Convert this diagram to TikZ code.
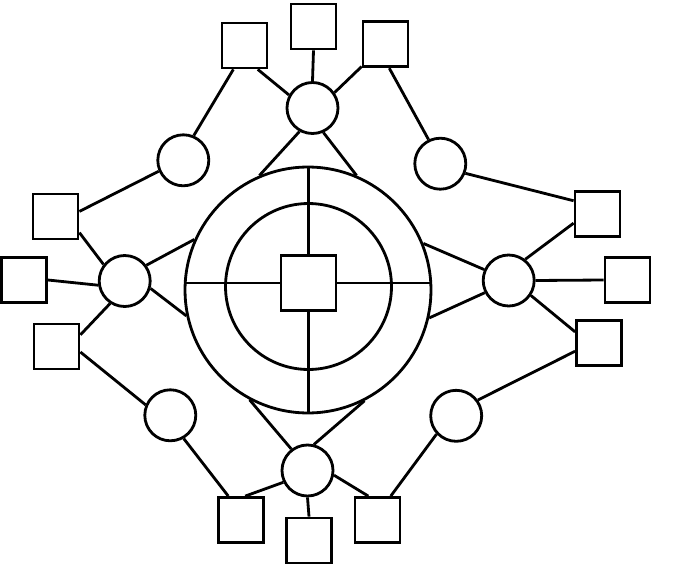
\documentclass[tikz,border=0pt]{standalone}
\usepackage{tikz}
\usetikzlibrary{calc}

\begin{document}
\begin{tikzpicture}[x=0.02cm, y=-0.02cm, line width=1.6pt,
  hub/.style={circle, draw, minimum size=1.02cm, inner sep=0pt},
  leaf/.style={rectangle, draw, minimum size=0.9cm, inner sep=0pt}]
\useasboundingbox (0,0) rectangle (677,565);

% core: two rings and the centre box
\node[circle, draw, minimum size=4.92cm, inner sep=0pt] (ring) at (308,290) {};
\node[circle, draw, minimum size=3.32cm, inner sep=0pt] (inner) at (308.5,286.5) {};
\node[rectangle, draw, minimum size=1.1cm, inner sep=0pt] (core) at (308.5,283) {};

% cross through the rings
\draw (core.west) -- (core.west -| ring.west);
\draw (core.east) -- (core.east -| ring.east);
\draw (core.north) -- (core.north |- ring.north);
\draw (core.south) -- (core.south |- ring.south);

% hubs
\node[hub] (ht) at (312.5,108) {};
\node[hub] (hl) at (124.7,281) {};
\node[hub] (hr) at (508.7,280.5) {};
\node[hub] (hb) at (307.5,470.5) {};
\node[hub] (htl) at (183.3,160.3) {};
\node[hub] (htr) at (440.3,163.7) {};
\node[hub] (hbl) at (170.3,415.3) {};
\node[hub] (hbr) at (456.2,415.8) {};

% leaves
\node[leaf] (t1) at (244.5,45.5) {};
\node[leaf] (t2) at (313.5,26.5) {};
\node[leaf] (t3) at (385.5,44.3) {};
\node[leaf] (l1) at (55.5,216.5) {};
\node[leaf] (l2) at (24,280) {};
\node[leaf] (l3) at (56.5,346.5) {};
\node[leaf] (r1) at (597.5,214) {};
\node[leaf] (r2) at (627.5,280) {};
\node[leaf] (r3) at (599,343) {};
\node[leaf] (b1) at (241,520) {};
\node[leaf] (b2) at (309,540.5) {};
\node[leaf] (b3) at (377.5,520) {};

% hubs to the outer ring
\foreach \a/\b in {ht.-119.5/ring.113.3, ht.-66/ring.67.6,
                   hl.36.1/ring.156.2, hl.-16.7/ring.192.7,
                   hr.156.1/ring.22.5, hr.207.8/ring.-13.3,
                   hb.127.6/ring.242.9, hb.76.7/ring.-63.2}
  \draw (\a) -- (\b);

% top group
\draw (t1.-115) -- (htl.67);
\draw (t1.-61.5) -- (ht.151.4);
\draw (t2.south) -- (ht.north);
\draw (t3.-137.8) -- (ht.35.5);
\draw (t3.-81.2) -- (htr.116.9);

% left group
\draw (htl.-156.6) -- (l1.12);
\draw (l1.-34) -- (hl.142.3);
\draw (l2.east) -- (hl.189.2);
\draw (hl.-123.7) -- (l3.26);
\draw (l3.-13.6) -- (hbl.157.8);

% right group
\draw (htr.-21.8) -- (r1.151.3);
\draw (r1.201.8) -- (hr.52.8);
\draw (hr.east) -- (r2.west);
\draw (hr.-34.2) -- (r3.155.6);
\draw (r3.199.3) -- (hbr.36.7);

% bottom group
\draw (hbl.-60.5) -- (b1.118.9);
\draw (hb.206.5) -- (b1.80.1);
\draw (hb.south) -- (b2.north);
\draw (hb.-10.5) -- (b3.111.8);
\draw (b3.61.5) -- (hbr.223.5);
\end{tikzpicture}
\end{document}
